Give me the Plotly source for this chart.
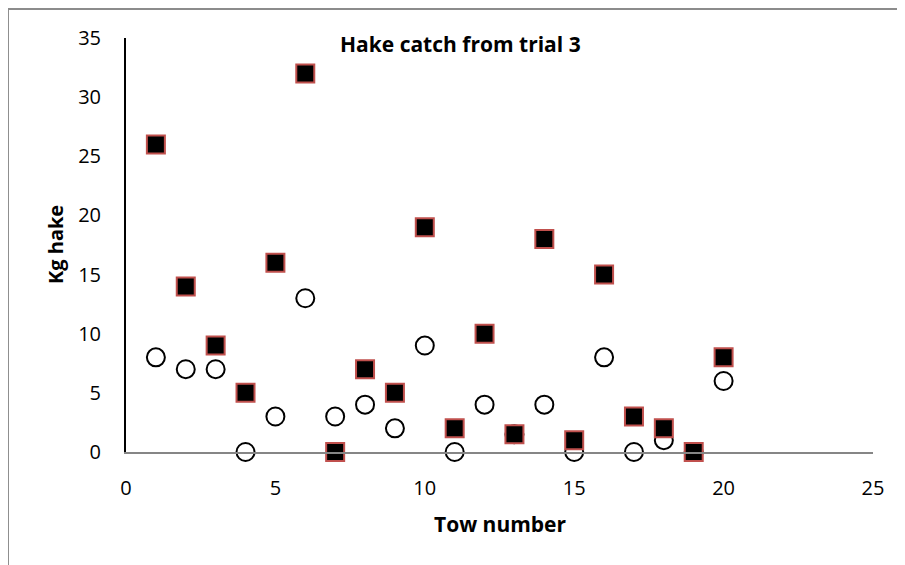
import plotly.graph_objects as go

tow = list(range(1, 21))
# open circles
kg_circle = [8, 7, 7, 0, 3, 13, 3, 4, 2, 9, 0, 4, 1.5, 4, 0, 8, 0, 1, 0, 6]
# filled squares
kg_square = [26, 14, 9, 5, 16, 32, 0, 7, 5, 19, 2, 10, 1.5, 18, 1, 15, 3, 2, 0, 8]

x_ticks = [0, 5, 10, 15, 20, 25]
y_ticks = [0, 5, 10, 15, 20, 25, 30, 35]

FONT = "'Open Sans', sans-serif"

fig = go.Figure()
fig.add_trace(
    go.Scatter(
        x=tow,
        y=kg_circle,
        mode="markers",
        marker=dict(symbol="circle", size=18, color="white",
                    line=dict(color="black", width=2)),
        cliponaxis=False,
    )
)
fig.add_trace(
    go.Scatter(
        x=tow,
        y=kg_square,
        mode="markers",
        marker=dict(symbol="square", size=18, color="black",
                    line=dict(color="#c0504d", width=2)),
        cliponaxis=False,
    )
)

# page body adds an 8px offset, so the figure is 8px smaller and margins shifted
fig.update_layout(
    width=897,
    height=557,
    showlegend=False,
    paper_bgcolor="white",
    plot_bgcolor="white",
    font=dict(family=FONT, size=20, color="black"),
    margin=dict(l=118, r=32, t=30, b=113),
    xaxis=dict(
        range=[0, 25],
        tickvals=x_ticks,
        showgrid=False,
        zeroline=False,
        showline=True,
        linecolor="#868686",
        linewidth=2,
        ticks="",
        ticklabelstandoff=17,
    ),
    yaxis=dict(
        range=[0, 35],
        tickvals=y_ticks,
        showgrid=False,
        zeroline=False,
        showline=True,
        linecolor="black",
        linewidth=2,
        ticks="",
        ticklabelstandoff=19,
    ),
    annotations=[
        dict(text="<b>Hake catch from trial 3</b>", xref="paper", yref="paper",
             x=0.448, y=0.986, xanchor="center", yanchor="middle",
             showarrow=False, font=dict(size=21)),
        dict(text="<b>Tow number</b>", xref="paper", yref="paper",
             x=0.502, y=-0.174, xanchor="center", yanchor="middle",
             showarrow=False, font=dict(size=21)),
        dict(text="<b>Kg hake</b>", xref="paper", yref="paper",
             x=-0.095, y=0.5, xanchor="center", yanchor="middle",
             textangle=-90, showarrow=False, font=dict(size=20)),
    ],
    shapes=[
        # outer chart border (only top and left visible in the crop)
        dict(type="line", xref="paper", yref="paper",
             x0=-0.158, x1=1.2, y0=1.07, y1=1.07,
             line=dict(color="#8c8c8c", width=2)),
        dict(type="line", xref="paper", yref="paper",
             x0=-0.158, x1=-0.158, y0=-0.3, y1=1.07,
             line=dict(color="#8c8c8c", width=2)),
    ],
)

fig.write_html("out.html")
